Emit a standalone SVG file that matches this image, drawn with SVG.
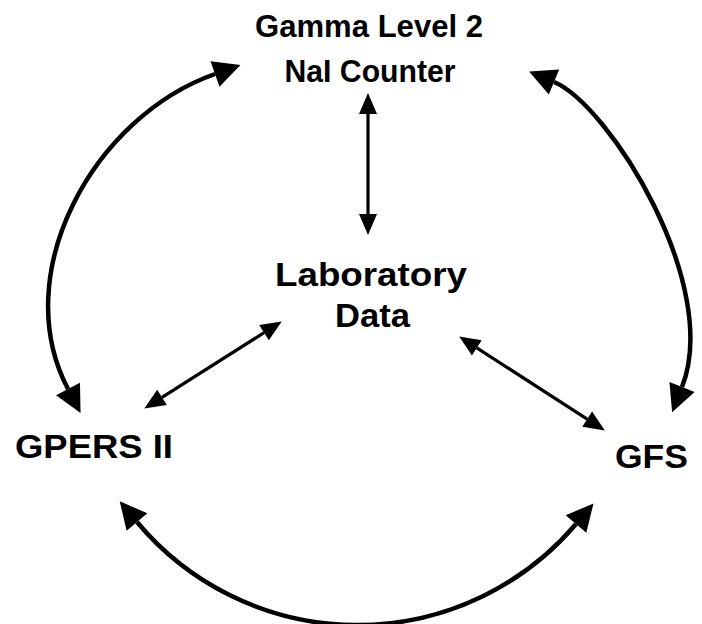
<svg xmlns="http://www.w3.org/2000/svg" width="702" height="624" viewBox="0 0 702 624">
<style>
.lbl{font-family:"Liberation Sans",Arial,sans-serif;font-weight:bold;fill:#000}
.curve{fill:none;stroke:#000;stroke-width:4.5}
.line{fill:none;stroke:#000;stroke-width:3.2}
</style>
<defs>
<marker id="big" markerUnits="userSpaceOnUse" markerWidth="32" markerHeight="32" refX="0" refY="0" viewBox="0 -16 32 32" orient="auto-start-reverse" overflow="visible">
<path d="M0,-13.5 L27,0 L0,13.5 Z" fill="#000"/>
</marker>
<marker id="small" markerUnits="userSpaceOnUse" markerWidth="24" markerHeight="24" refX="0" refY="0" viewBox="0 -12 24 24" orient="auto-start-reverse" overflow="visible">
<path d="M0,-9 L21,0 L0,9 Z" fill="#000"/>
</marker>
</defs>
<rect width="702" height="624" fill="#fff"/>
<g id="connectors">
<path class="curve" d="M215,74 C93,117 7.5,274 68,389" marker-start="url(#big)" marker-end="url(#big)"/>
<path class="curve" d="M554,82 C609,105 722,285 682,387" marker-start="url(#big)" marker-end="url(#big)"/>
<path class="curve" d="M137,522 A287,287 0 0,0 576,524" marker-start="url(#big)" marker-end="url(#big)"/>
<path class="line" d="M368,114 L368,214" marker-start="url(#small)" marker-end="url(#small)"/>
<path class="line" d="M264,332.7 L162,397.3" marker-start="url(#small)" marker-end="url(#small)"/>
<path class="line" d="M476.8,347.9 L587.2,419.1" marker-start="url(#small)" marker-end="url(#small)"/>
</g>
<g id="gamma">
<text class="lbl" x="369" y="37" font-size="32" text-anchor="middle" textLength="228" lengthAdjust="spacingAndGlyphs">Gamma Level 2</text>
<text class="lbl" x="370" y="82" font-size="32" text-anchor="middle" textLength="171" lengthAdjust="spacingAndGlyphs">NaI Counter</text>
</g>
<g id="lab">
<text class="lbl" x="371" y="286" font-size="32.5" text-anchor="middle" textLength="192" lengthAdjust="spacingAndGlyphs">Laboratory</text>
<text class="lbl" x="372.5" y="327" font-size="32.5" text-anchor="middle" textLength="75" lengthAdjust="spacingAndGlyphs">Data</text>
</g>
<g id="gpers">
<text class="lbl" x="15" y="458" font-size="32.5" textLength="158" lengthAdjust="spacingAndGlyphs">GPERS II</text>
</g>
<g id="gfs">
<text class="lbl" x="615" y="468" font-size="32.5" textLength="73" lengthAdjust="spacingAndGlyphs">GFS</text>
</g>
</svg>
